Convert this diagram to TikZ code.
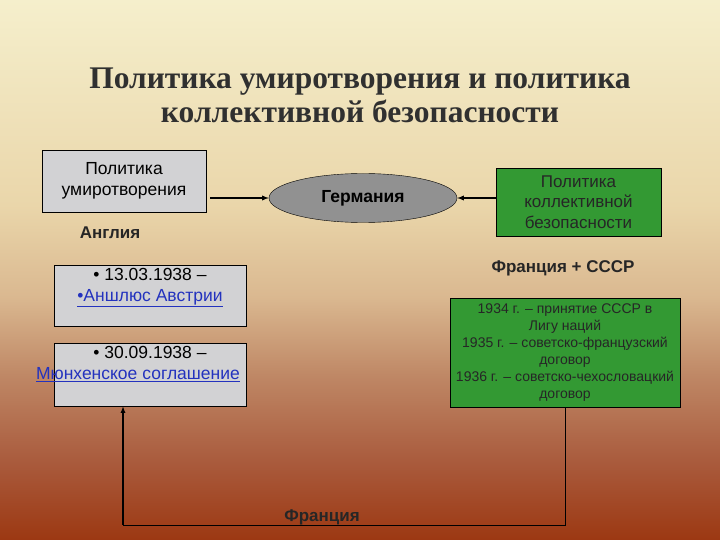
\documentclass[tikz,border=0pt]{standalone}
\usepackage{fontspec}
\setmainfont{Liberation Sans}
\newfontfamily\titlefont{Liberation Serif}
\usetikzlibrary{shapes.geometric}

\definecolor{boxgray}{RGB}{210,210,212}
\definecolor{ovalgray}{RGB}{145,145,145}
\definecolor{pactgreen}{RGB}{51,153,51}
\definecolor{linkblue}{RGB}{35,50,190}
\definecolor{titlegray}{RGB}{48,48,48}
\definecolor{bgA}{RGB}{156,56,18}
\definecolor{bgB}{RGB}{170,92,62}
\definecolor{bgC}{RGB}{190,134,100}
\definecolor{bgD}{RGB}{218,184,144}
\definecolor{bgE}{RGB}{234,214,170}
\definecolor{bgF}{RGB}{245,239,204}
% the visible part of a tikz shading runs from 25bp to 75bp
\pgfdeclareverticalshading{slidebg}{100bp}{color(0bp)=(bgA); color(25bp)=(bgA); color(32.5bp)=(bgB);
  color(40bp)=(bgC); color(47.5bp)=(bgD); color(56bp)=(bgE); color(75bp)=(bgF); color(100bp)=(bgF)}

\newcommand{\lnk}[1]{\textcolor{linkblue}{\underline{#1}}}

\begin{document}
\begin{tikzpicture}[x=1pt, y=-1pt]
  \tikzset{
    policy/.style={draw, thick, fill=boxgray, inner sep=0pt, align=center,
      font=\fontsize{17.5}{21}\selectfont},
    event/.style={policy, minimum width=192pt},
    pact/.style={draw, thick, fill=pactgreen, inner sep=0pt, align=center, text=black!85},
    country/.style={font=\bfseries\fontsize{17}{20}\selectfont, text=black!85}
  }

  \shade[shading=slidebg] (0,0) rectangle (720,540);
  \useasboundingbox (0,0) rectangle (720,540);

  \node[font=\titlefont\bfseries\fontsize{31.5}{34}\selectfont, text=titlegray, align=center] (title) at (360,95)
    {Политика умиротворения и политика\\коллективной безопасности};

  \node[policy, minimum width=164pt, minimum height=62pt] (appeasement) at (124,181)
    {Политика\\умиротворения};
  \node[ellipse, draw, fill=ovalgray, minimum width=188pt, minimum height=49pt, inner sep=0pt,
    font=\bfseries\fontsize{17.5}{20}\selectfont] (germany) at (363,198) {Германия};
  \node[pact, minimum width=165pt, minimum height=68pt, font=\fontsize{17}{20.5}\selectfont] (collective) at (578.5,202)
    {Политика\\коллективной\\безопасности};

  \node[country] (england) at (110,233) {Англия};
  \node[country] (francessr) at (563,268) {Франция + СССР};

  \node[event, minimum height=61pt] (anschluss) at (150,295.5)
    {\parbox[c][55pt][t]{190pt}{\centering • 13.03.1938 –\\ \lnk{•Аншлюс Австрии}}};
  \node[event, minimum height=63pt] (munich) at (150,374.5)
    {\parbox[c][57pt][t]{190pt}{\centering • 30.09.1938 –\\ \hspace*{-24pt}\lnk{Мюнхенское соглашение}}};

  \node[pact, minimum width=230pt, minimum height=109pt, font=\fontsize{14}{17}\selectfont] (treaties) at (565,352.5)
    {1934 г. – принятие СССР в\\Лигу наций\\1935 г. – советско-французский\\договор\\1936 г. – советско-чехословацкий\\договор};

  \coordinate (turn) at (123,525);
  \node[country] (france) at (322,517) {Франция};

  \draw[-latex, line width=1.3pt] (appeasement.east |- germany) ++(4,0) -- (germany.west);
  \draw[-latex, line width=1.3pt] (collective.west |- germany) -- (germany.east);
  \draw (treaties.south) |- (turn);
  \draw[-latex, line width=1.2pt] (turn) -- (turn |- munich.south);
\end{tikzpicture}
\end{document}
